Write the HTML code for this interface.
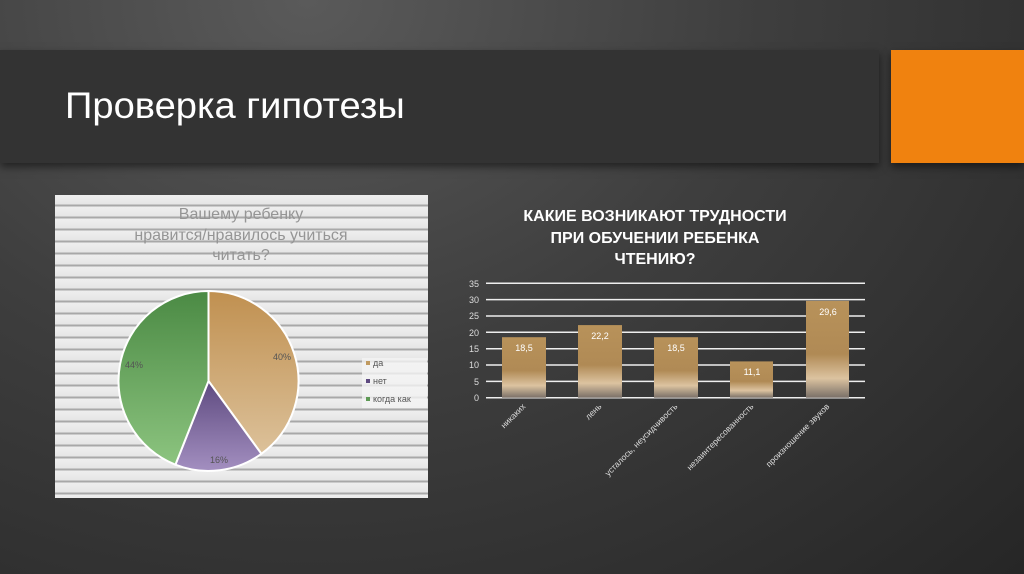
<!DOCTYPE html>
<html><head><meta charset="utf-8"><style>
body{margin:0;width:1024px;height:574px;overflow:hidden;background:radial-gradient(ellipse at 30% 0%,#5a5a5a 0%,#3e3e3e 45%,#262626 100%);font-family:"Liberation Sans",sans-serif;position:relative}
.band{position:absolute;left:0;top:50px;width:879px;height:113px;background:#333;box-shadow:0 4px 8px rgba(0,0,0,.5)}
.orange{position:absolute;left:891px;top:50px;width:133px;height:113px;background:#f0820f;box-shadow:0 4px 8px rgba(0,0,0,.5)}
.title{position:absolute;left:65px;top:85px;font-size:37px;color:#fff;transform:scaleX(1.03);transform-origin:left;white-space:nowrap}
.pie{position:absolute;left:55px;top:195px;width:373px;height:303px;background:repeating-linear-gradient(180deg,#eee 0,#e6e6e6 9px,#a8a8a8 10px,#a8a8a8 11px,#eee 12px);}
</style></head><body>
<div class="band"></div><div class="orange"></div>
<div class="title">Проверка гипотезы</div>
<div class="pie"></div>
<svg width="1024" height="574" style="position:absolute;left:0;top:0">
<defs>
<linearGradient id="g1" x1="0" y1="0" x2="0" y2="1"><stop offset="0" stop-color="#c09050"/><stop offset="1" stop-color="#dcc19a"/></linearGradient>
<linearGradient id="g2" x1="0" y1="0" x2="0" y2="1"><stop offset="0" stop-color="#5e4a80"/><stop offset="1" stop-color="#a38fc0"/></linearGradient>
<linearGradient id="g3" x1="0" y1="0" x2="0" y2="1"><stop offset="0" stop-color="#4b8a44"/><stop offset="1" stop-color="#8cc47f"/></linearGradient>
<linearGradient id="gb" x1="0" y1="0" x2="0" y2="1"><stop offset="0" stop-color="#b8925a"/><stop offset="0.55" stop-color="#b08a55"/><stop offset="0.8" stop-color="#dcc3a0"/><stop offset="1" stop-color="#7a7068"/></linearGradient>
</defs>
<g font-family="Liberation Sans, sans-serif" fill="#959595" font-size="16" text-anchor="middle">
<text x="241" y="219">Вашему ребенку</text>
<text x="241" y="240">нравится/нравилось учиться</text>
<text x="241" y="260">читать?</text>
</g>
<g stroke="#fff" stroke-width="2">
<path d="M208.5,381 L208.5,291 A90,90 0 0 1 261.4,453.8 Z" fill="url(#g1)"/>
<path d="M208.5,381 L261.4,453.8 A90,90 0 0 1 175.4,464.7 Z" fill="url(#g2)"/>
<path d="M208.5,381 L175.4,464.7 A90,90 0 0 1 208.5,291 Z" fill="url(#g3)"/>
</g>
<g font-size="9" fill="#555" font-family="Liberation Sans, sans-serif">
<text x="273" y="360">40%</text><text x="210" y="463">16%</text><text x="125" y="368">44%</text>
<rect x="362" y="358" width="65" height="50" fill="#f4f4f4" opacity=".8"/>
<rect x="366" y="361" width="4" height="4" fill="#c09a60"/><text x="373" y="366">да</text>
<rect x="366" y="379" width="4" height="4" fill="#5e4a80"/><text x="373" y="384">нет</text>
<rect x="366" y="397" width="4" height="4" fill="#5e9a55"/><text x="373" y="402">когда как</text>
</g>
<g font-family="Liberation Sans, sans-serif" fill="#fff" font-size="16" font-weight="bold" text-anchor="middle">
<text x="655" y="221">КАКИЕ ВОЗНИКАЮТ ТРУДНОСТИ</text>
<text x="655" y="243">ПРИ ОБУЧЕНИИ РЕБЕНКА</text>
<text x="655" y="264">ЧТЕНИЮ?</text>
</g>
<g stroke="#eee" stroke-width="1.5">
<line x1="486" x2="865" y1="283.3" y2="283.3"/><line x1="486" x2="865" y1="299.6" y2="299.6"/>
<line x1="486" x2="865" y1="316" y2="316"/><line x1="486" x2="865" y1="332.3" y2="332.3"/>
<line x1="486" x2="865" y1="348.7" y2="348.7"/><line x1="486" x2="865" y1="365" y2="365"/>
<line x1="486" x2="865" y1="381.4" y2="381.4"/><line x1="486" x2="865" y1="397.7" y2="397.7"/>
</g>
<g font-size="9" fill="#ddd" text-anchor="end" font-family="Liberation Sans, sans-serif">
<text x="479" y="287">35</text><text x="479" y="303">30</text><text x="479" y="319">25</text><text x="479" y="336">20</text><text x="479" y="352">15</text><text x="479" y="368">10</text><text x="479" y="385">5</text><text x="479" y="401">0</text>
</g>
<g fill="url(#gb)">
<rect x="502" y="337.2" width="44" height="60.5"/>
<rect x="578" y="325.1" width="44" height="72.6"/>
<rect x="654" y="337.2" width="44" height="60.5"/>
<rect x="730" y="361.4" width="43" height="36.3"/>
<rect x="806" y="300.9" width="43" height="96.8"/>
</g>
<g font-size="9" fill="#fff" text-anchor="middle" font-family="Liberation Sans, sans-serif">
<text x="524" y="351">18,5</text><text x="600" y="339">22,2</text><text x="676" y="351">18,5</text><text x="752" y="375">11,1</text><text x="828" y="315">29,6</text>
</g>
<g font-size="8.5" fill="#ddd" text-anchor="end" font-family="Liberation Sans, sans-serif">
<text transform="translate(526,407) rotate(-45)">никаких</text>
<text transform="translate(602,407) rotate(-45)">лень</text>
<text transform="translate(678,407) rotate(-45)">усталось, неусидчивость</text>
<text transform="translate(754,407) rotate(-45)">незаинтересованность</text>
<text transform="translate(830,407) rotate(-45)">произношение звуков</text>
</g>
</svg>
</body></html>
